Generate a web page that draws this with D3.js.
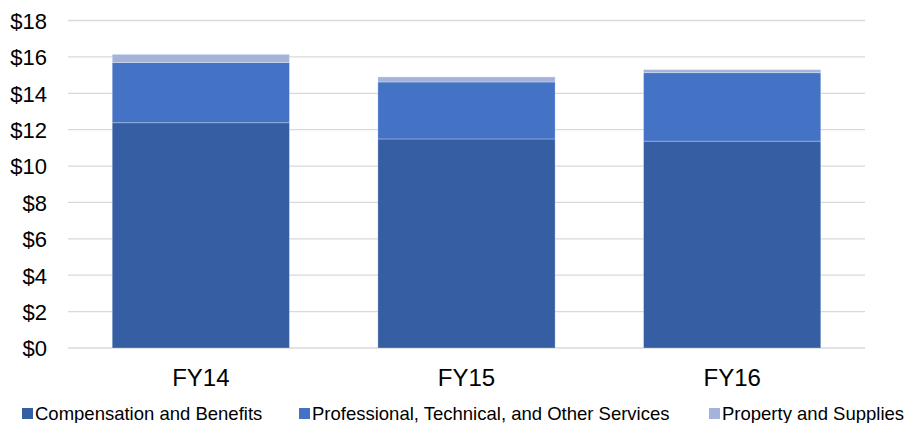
<!DOCTYPE html>
<html>
<head>
<meta charset="utf-8">
<script src="https://cdn.jsdelivr.net/npm/d3@7"></script>
<style>
  html, body { margin: 0; padding: 0; background: #fff; }
  svg { display: block; font-family: "Liberation Sans", Arial, sans-serif; }
</style>
</head>
<body>
<svg id="chart" width="904" height="423"></svg>
<script>
// Spending by category, $ millions
const years = ["FY14", "FY15", "FY16"];
const compensation = [12.38, 11.49, 11.37];
const professional = [3.31, 3.13, 3.76];
const property = [0.45, 0.28, 0.17];
const seriesNames = ["Compensation and Benefits", "Professional, Technical, and Other Services", "Property and Supplies"];
const seriesColors = ["#355EA3", "#4472C4", "#A5B3DA"];
const yTicks = [0, 2, 4, 6, 8, 10, 12, 14, 16, 18];

const svg = d3.select("#chart");
const margin = { left: 68, right: 39, top: 20.5, bottom: 75 };
const W = 904, H = 423;

const x = d3.scaleBand().domain(years).range([margin.left, W - margin.right]).paddingInner(0.333).paddingOuter(0.1665);
const y = d3.scaleLinear().domain([0, 18]).range([348, margin.top]);

// gridlines
svg.append("g").selectAll("line").data(yTicks).join("line")
  .attr("x1", margin.left).attr("x2", W - margin.right)
  .attr("y1", d => y(d)).attr("y2", d => y(d))
  .attr("stroke", "#D9D9D9").attr("stroke-width", 1.3);

// y axis labels
const yAxis = d3.axisLeft(y).tickValues(yTicks).tickSize(0).tickPadding(0).tickFormat(d => "$" + d);
const yg = svg.append("g").attr("transform", "translate(47,0)").call(yAxis);
yg.select(".domain").remove();
yg.selectAll("text").attr("font-size", 22).attr("fill", "#000").attr("font-family", "Liberation Sans, Arial, sans-serif").attr("dy", "0.36em");

// stacked bars
const rows = years.map((yr, i) => ({ year: yr, s0: compensation[i], s1: professional[i], s2: property[i] }));
const stack = d3.stack().keys(["s0", "s1", "s2"]);
const layers = stack(rows);
svg.append("g").selectAll("g").data(layers).join("g")
  .attr("fill", (d, i) => seriesColors[i])
  .selectAll("rect").data(d => d).join("rect")
  .attr("x", d => x(d.data.year))
  .attr("width", x.bandwidth())
  .attr("y", d => y(d[1]))
  .attr("height", d => y(d[0]) - y(d[1]))
  .attr("stroke", "#ffffff").attr("stroke-opacity", 0.35).attr("stroke-width", 0.8);

// x axis labels
const xAxis = d3.axisBottom(x).tickSize(0).tickPadding(0);
const xg = svg.append("g").attr("transform", "translate(0,369)").call(xAxis);
xg.select(".domain").remove();
xg.selectAll("text").attr("font-size", 24).attr("fill", "#000").attr("font-family", "Liberation Sans, Arial, sans-serif").attr("dy", "0.71em");

// legend
const legendX = [22, 299, 709];
const lg = svg.append("g").selectAll("g").data(seriesNames).join("g")
  .attr("transform", (d, i) => `translate(${legendX[i]},0)`);
lg.append("rect").attr("x", 0).attr("y", 408).attr("width", 11).attr("height", 11)
  .attr("fill", (d, i) => seriesColors[i]);
lg.append("text").attr("x", 13).attr("y", 419.5)
  .attr("font-size", 18.5).attr("fill", "#000").text(d => d);
</script>
</body>
</html>
